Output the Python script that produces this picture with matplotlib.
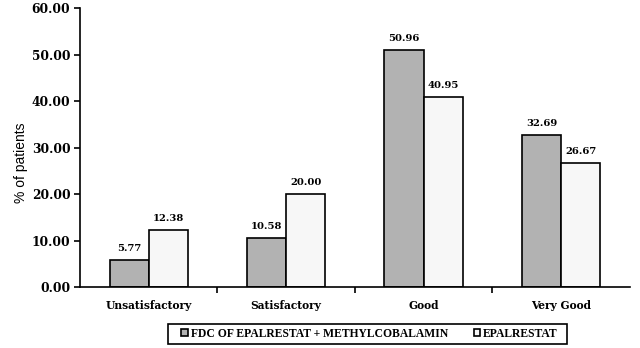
import matplotlib
matplotlib.use("Agg")
import matplotlib.pyplot as plt
from matplotlib.patches import Rectangle
import numpy as np

categories = ["Unsatisfactory", "Satisfactory", "Good", "Very Good"]
fdc = [5.77, 10.58, 50.96, 32.69]
epal = [12.38, 20.00, 40.95, 26.67]
series_names = ["FDC OF EPALRESTAT + METHYLCOBALAMIN", "EPALRESTAT"]
yticks = [0, 10, 20, 30, 40, 50, 60]

serif = "DejaVu Serif"
W, H = 640, 348
fig = plt.figure(figsize=(6.4, 3.48), dpi=100)
ax = fig.add_axes([0.125, 0.175, 0.859, 0.802])

x = np.arange(len(categories))
w = 0.285
b1 = ax.bar(x - w / 2, fdc, w, color="#b2b2b2", edgecolor="black", linewidth=1.2,
            label=series_names[0])
b2 = ax.bar(x + w / 2, epal, w, color="#f7f7f7", edgecolor="black", linewidth=1.2,
            label=series_names[1])

for bars, vals in ((b1, fdc), (b2, epal)):
    for r, v in zip(bars, vals):
        ax.text(r.get_x() + r.get_width() / 2, v + 1.5, f"{v:.2f}", ha="center", va="bottom",
                fontfamily=serif, fontweight="bold", fontsize=7.2)

ax.set_xlim(-0.5, 3.5)
ax.set_ylim(0, 60)
ax.set_yticks(yticks)
ax.set_yticklabels([f"{t:.2f}" for t in yticks], fontfamily=serif, fontweight="bold", fontsize=8.8)
ax.set_xticks(x)
ax.set_xticklabels(categories, fontfamily=serif, fontweight="bold", fontsize=7.7)
ax.tick_params(axis="x", which="major", length=0, pad=9)
ax.set_xticks(np.arange(0.5, 3.5, 1.0), minor=True)
ax.tick_params(axis="x", which="minor", length=4, width=1.2, direction="out")
ax.tick_params(axis="y", length=4, width=1.2, direction="out", pad=3)
ax.set_ylabel("% of patients", fontfamily="Liberation Sans", fontsize=10)
ax.yaxis.set_label_coords(-0.094, 0.444)

for s in ("top", "right"):
    ax.spines[s].set_visible(False)
for s in ("left", "bottom"):
    ax.spines[s].set_linewidth(1.2)

# legend frame
fig.add_artist(Rectangle((168 / W, 1 - 344 / H), (567 - 168) / W, (344 - 324) / H,
                         transform=fig.transFigure, fill=False, edgecolor="black", linewidth=1.2))
leg = fig.legend(handles=[b1, b2], labels=series_names, loc="center",
                 bbox_to_anchor=(369.5 / W, 1 - 334 / H), ncol=2, frameon=False,
                 prop={"family": "Liberation Serif", "weight": "bold", "size": 8.4},
                 handlelength=0.55, handleheight=0.55, handletextpad=0.25, columnspacing=2.2,
                 borderpad=0.0)

fig.savefig("out.png", dpi=100)
